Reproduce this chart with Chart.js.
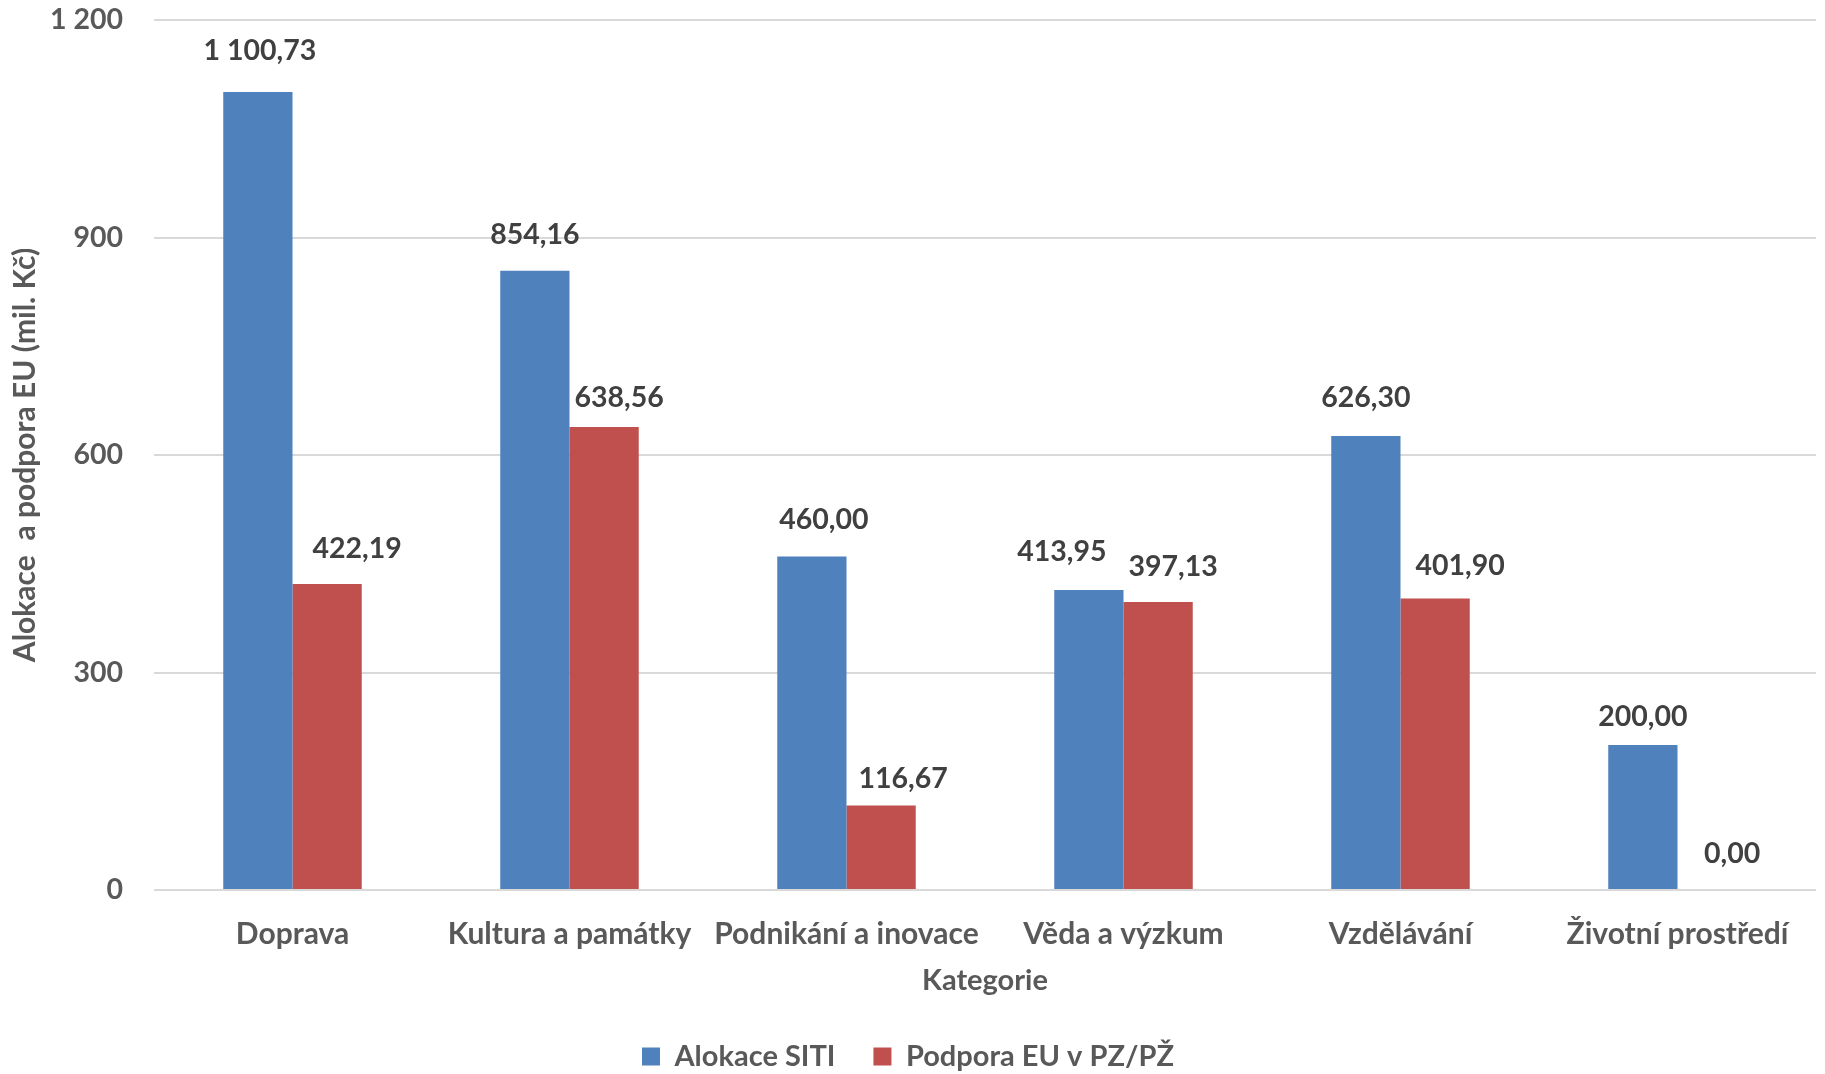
<!DOCTYPE html>
<html>
<head>
<meta charset="utf-8">
<script src="https://cdn.jsdelivr.net/npm/chart.js@4"></script>
<style>
  html, body { margin: 0; padding: 0; background: #fff; overflow: hidden; }
  #wrap { position: relative; width: 1825px; height: 1081px; }
</style>
</head>
<body>
<div id="wrap"><canvas id="c"></canvas></div>
<script>
const categories = ['Doprava', 'Kultura a památky', 'Podnikání a inovace', 'Věda a výzkum', 'Vzdělávání', 'Životní prostředí'];
const alokaceSITI = [1100.73, 854.16, 460.00, 413.95, 626.30, 200.00];
const podporaEU = [422.19, 638.56, 116.67, 397.13, 401.90, 0.00];
const seriesNames = ['Alokace SITI', 'Podpora EU v PZ/PŽ'];
const yTicks = [0, 300, 600, 900, 1200];

const FONT = 'Lato, "Noto Sans", sans-serif';
const TXT = '#595959';

function fmtNum(v, dec) {
  const s = v.toFixed(dec);
  const [ip, fp] = s.split('.');
  const withSp = ip.replace(/\B(?=(\d{3})+(?!\d))/g, ' ');
  return fp !== undefined ? withSp + ',' + fp : withSp;
}

const labelPlugin = {
  id: 'valueLabels',
  afterDatasetsDraw(chart, args, opts) {
    const ctx = chart.ctx;
    ctx.save();
    ctx.font = 'bold 28.5px ' + FONT;
    ctx.fillStyle = '#404040';
    ctx.textAlign = 'center';
    ctx.textBaseline = 'middle';
    chart.data.datasets.forEach((ds, di) => {
      const meta = chart.getDatasetMeta(di);
      const st = opts.style[di];
      meta.data.forEach((el, i) => {
        ctx.fillText(fmtNum(ds.data[i], 2), el.x + st.dx[i], el.y - st.dy[i]);
      });
    });
    ctx.restore();
  }
};

new Chart(document.getElementById('c'), {
  type: 'bar',
  data: {
    labels: categories,
    datasets: [
      { label: seriesNames[0], data: alokaceSITI, backgroundColor: '#4F81BD', borderWidth: 0 },
      { label: seriesNames[1], data: podporaEU, backgroundColor: '#C0504D', borderWidth: 0 }
    ]
  },
  options: {
    responsive: true,
    maintainAspectRatio: false,
    animation: false,
    devicePixelRatio: 1,
    layout: { padding: { top: 20, right: 9, left: 0, bottom: 0 } },
    datasets: { bar: { categoryPercentage: 0.5, barPercentage: 1.0 } },
    plugins: {
      tooltip: { enabled: false },
      legend: {
        position: 'bottom',
        labels: {
          font: { family: FONT, size: 29, weight: 'bold' },
          color: TXT,
          boxWidth: 18,
          boxHeight: 18,
          padding: 38
        }
      },
      valueLabels: {
        style: [
          { dx: [2, 0, 12, -27, 0, 0], dy: [41, 36, 36.5, 38.5, 38.5, 28] },
          { dx: [30, 15, 22, 15, 25, 20], dy: [35, 29.5, 26.5, 35, 33, 36] }
        ]
      }
    },
    scales: {
      x: {
        grid: { display: false, drawTicks: false },
        border: { display: false },
        ticks: { font: { family: FONT, size: 30, weight: 'bold' }, color: TXT, padding: 26, maxRotation: 0 },
        title: { display: true, text: 'Kategorie', font: { family: FONT, size: 29, weight: 'bold' }, color: TXT, padding: { top: 0, bottom: 5.6 } },
        afterFit(scale) { scale.height = 114; }
      },
      y: {
        min: 0, max: 1200,
        afterBuildTicks(scale) { scale.ticks = yTicks.map(v => ({ value: v })); },
        grid: { color: '#D9D9D9', lineWidth: 2, drawTicks: false },
        border: { display: false },
        ticks: { font: { family: FONT, size: 28.5, weight: 'bold' }, color: TXT, padding: 31, callback: v => fmtNum(v, 0) },
        title: { display: true, text: 'Alokace  a podpora EU (mil. Kč)', font: { family: FONT, size: 30, weight: 'bold' }, color: TXT, padding: { top: 7, bottom: 0 } },
        afterFit(scale) { scale.width = 154; scale.paddingTop = 20; scale.paddingBottom = 0; }
      }
    }
  },
  plugins: [labelPlugin]
});
</script>
</body>
</html>
